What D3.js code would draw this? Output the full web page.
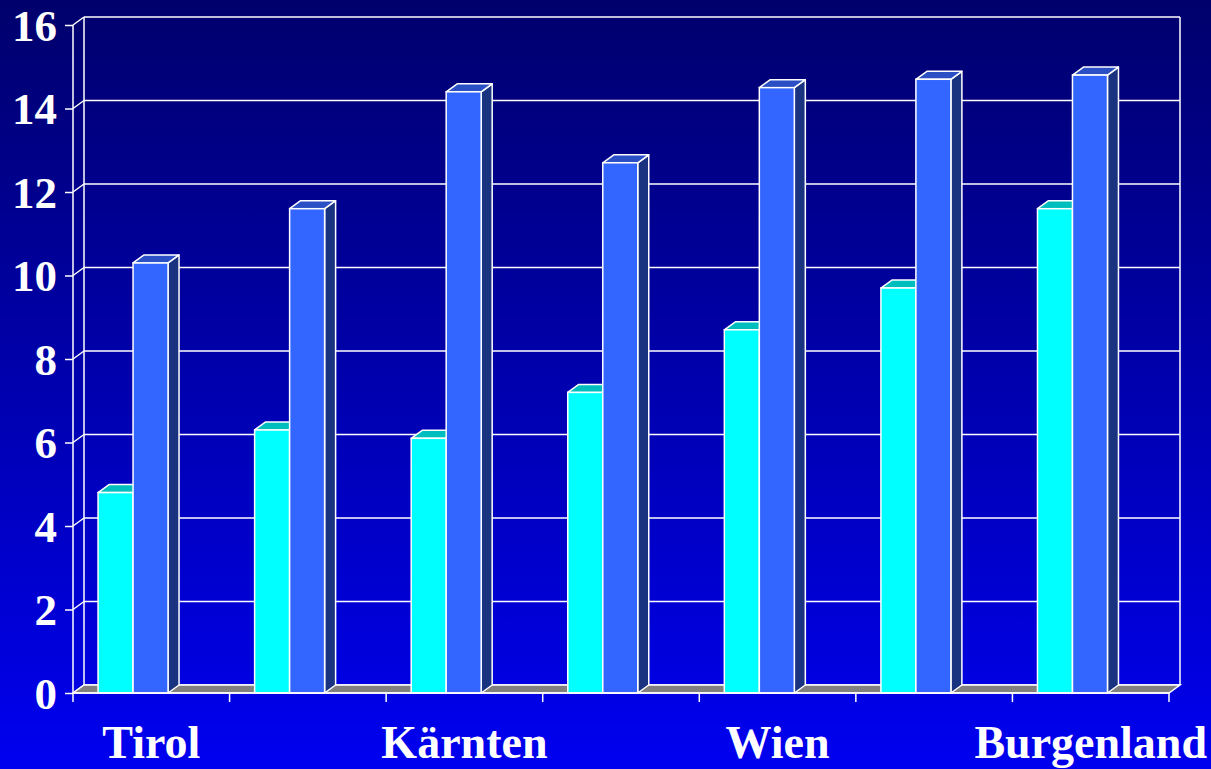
<!DOCTYPE html>
<html>
<head>
<meta charset="utf-8">
<script src="https://cdn.jsdelivr.net/npm/d3@7"></script>
<style>
html,body{margin:0;padding:0;overflow:hidden;}
svg{display:block;}
</style>
</head>
<body>
<svg id="chart" width="1211" height="769"></svg>
<script>
const categories = ["Tirol", "", "Kärnten", "", "Wien", "", "Burgenland"];
const seriesNames = ["Serie 1", "Serie 2"];
const series1 = [4.8, 6.3, 6.1, 7.2, 8.7, 9.7, 11.6];
const series2 = [10.3, 11.6, 14.4, 12.7, 14.5, 14.7, 14.8];
const yTicks = [0, 2, 4, 6, 8, 10, 12, 14, 16];

(function () {
const W = 1211, H = 769;
const svg = d3.select("#chart");
const defs = svg.append("defs");
const grad = defs.append("linearGradient").attr("id", "bg").attr("x1", 0).attr("y1", 0).attr("x2", 0).attr("y2", 1);
grad.append("stop").attr("offset", "0%").attr("stop-color", "#00006c");
grad.append("stop").attr("offset", "100%").attr("stop-color", "#0000f0");
svg.append("rect").attr("width", W).attr("height", H).attr("fill", "url(#bg)");

const pLeft = 73, pRight = 1169, pBottom = 693, pTop = 25;
const dx = 11, dy = -8;
const x = d3.scaleBand().domain(d3.range(categories.length)).range([pLeft, pRight]).padding(0);
const y = d3.scaleLinear().domain([0, 16]).range([pBottom, pTop]);
const bw = x.bandwidth();
const xs = d3.scaleBand().domain(seriesNames).range([0.16 * bw, 0.607 * bw]).padding(0);

const stroke = "#ffffff";
const g = svg.append("g");

g.selectAll(".grid").data(yTicks).join("line")
  .attr("x1", pLeft + dx).attr("x2", pRight + dx)
  .attr("y1", d => y(d) + dy).attr("y2", d => y(d) + dy)
  .attr("stroke", stroke).attr("stroke-width", 1.5);
g.append("line").attr("x1", pLeft + dx).attr("x2", pLeft + dx).attr("y1", y(16) + dy).attr("y2", y(0) + dy).attr("stroke", stroke).attr("stroke-width", 1.5);
g.append("line").attr("x1", pRight + dx).attr("x2", pRight + dx).attr("y1", y(16) + dy).attr("y2", y(0) + dy).attr("stroke", stroke).attr("stroke-width", 1.5);
g.selectAll(".diag").data(yTicks).join("line")
  .attr("x1", pLeft).attr("x2", pLeft + dx)
  .attr("y1", d => y(d)).attr("y2", d => y(d) + dy)
  .attr("stroke", stroke).attr("stroke-width", 1.5);
g.append("path")
  .attr("d", `M${pLeft},${y(0)} L${pRight},${y(0)} L${pRight + dx},${y(0) + dy} L${pLeft + dx},${y(0) + dy} Z`)
  .attr("fill", "#808080").attr("stroke", stroke).attr("stroke-width", 1.5);

const cols = [
  {front: "#00ffff", topc: "#00bebe", side: "#008a8a"},
  {front: "#3366ff", topc: "#2b4fc4", side: "#1a3380"}
];
const data = [];
categories.forEach((c, i) => {
  [series1, series2].forEach((s, k) => data.push({i, k, v: s[i], name: seriesNames[k]}));
});
const bars = g.selectAll(".bar").data(data).join("g").attr("class", "bar");
bars.each(function(d) {
  const sel = d3.select(this);
  const x0 = x(d.i) + xs(d.name), x1 = x0 + xs.bandwidth();
  const y0 = y(0), y1 = y(d.v);
  const c = cols[d.k];
  sel.append("path").attr("d", `M${x1},${y1} L${x1 + dx},${y1 + dy} L${x1 + dx},${y0 + dy} L${x1},${y0} Z`)
    .attr("fill", c.side).attr("stroke", stroke).attr("stroke-width", 1.5).attr("stroke-linejoin", "round");
  sel.append("path").attr("d", `M${x0},${y1} L${x0 + dx},${y1 + dy} L${x1 + dx},${y1 + dy} L${x1},${y1} Z`)
    .attr("fill", c.topc).attr("stroke", stroke).attr("stroke-width", 1.5).attr("stroke-linejoin", "round");
  sel.append("rect").attr("x", x0).attr("y", y1).attr("width", x1 - x0).attr("height", y0 - y1)
    .attr("fill", c.front).attr("stroke", stroke).attr("stroke-width", 1.5);
});

const yAxis = d3.axisLeft(y).tickValues(yTicks).tickSize(8).tickFormat("");
const ya = svg.append("g").attr("transform", `translate(${pLeft},0)`).call(yAxis);
ya.selectAll("line,path").attr("stroke", stroke).attr("stroke-width", 1.5);
ya.select(".domain").attr("d", `M0,${pTop}V${pBottom}`);

const xTickScale = d3.scaleLinear().domain([0, categories.length]).range([pLeft, pRight]);
const xa = svg.append("g");
xa.append("line").attr("x1", pLeft).attr("x2", pRight).attr("y1", pBottom).attr("y2", pBottom).attr("stroke", stroke).attr("stroke-width", 1.5);
xa.selectAll(".xt").data(d3.range(categories.length + 1)).join("line")
  .attr("x1", d => xTickScale(d)).attr("x2", d => xTickScale(d))
  .attr("y1", pBottom).attr("y2", pBottom + 9).attr("stroke", stroke).attr("stroke-width", 1.5);

const font = "'Liberation Serif', 'Times New Roman', serif";
svg.selectAll(".ylab").data(yTicks).join("text")
  .attr("x", 57).attr("y", d => y(d)).attr("dy", "0.35em")
  .attr("text-anchor", "end").attr("fill", "#ffffff")
  .attr("font-family", font).attr("font-weight", "bold").attr("font-size", 45)
  .text(d => d);
svg.selectAll(".xlab").data(categories).join("text")
  .attr("x", (d, i) => x(i) + bw / 2).attr("y", 758)
  .attr("text-anchor", "middle").attr("fill", "#ffffff")
  .attr("font-family", font).attr("font-weight", "bold").attr("font-size", 46)
  .text(d => d);
})();
</script>
</body>
</html>
